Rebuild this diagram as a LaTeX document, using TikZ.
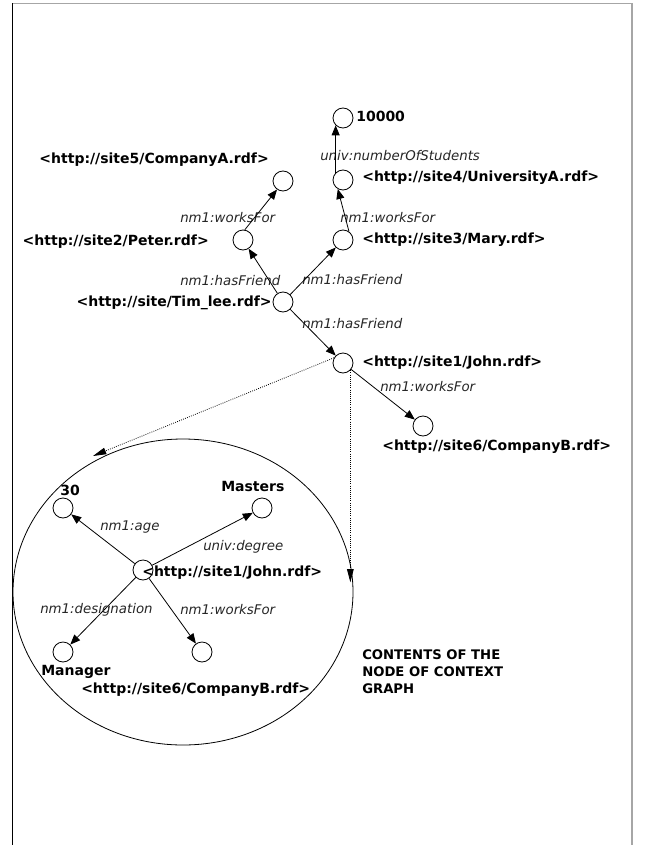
\documentclass[tikz,border=0pt]{standalone}
\usepackage{fontspec}
\setmainfont{DejaVu Sans}
\usetikzlibrary{arrows.meta}
\begin{document}
\begin{tikzpicture}[x=0.75pt,y=-0.75pt,
  vnode/.style={circle,draw,line width=0.6pt,minimum size=15pt,inner sep=0pt},
  uri/.style={font=\fontsize{10.5}{12}\selectfont\bfseries,inner sep=0pt},
  prop/.style={font=\fontsize{10}{12}\selectfont\itshape,inner sep=0pt,text=black!85},
  edgearrow/.style={line width=0.6pt,-{Triangle[length=7.5pt,width=6pt]}},
  dotarrow/.style={line width=0.6pt,densely dotted,-{Triangle[length=10pt,width=5pt]}}]
\useasboundingbox (0,0) rectangle (645,845);
% frame
\draw[gray!70,line width=1.2pt] (12.5,3.5) -- (632,3.5) -- (632,845);
\draw[black,line width=0.9pt] (12.5,3.5) -- (12.5,845);

% context graph nodes
\node[vnode] (ten)   at (343,118) {};
\node[vnode] (univ)  at (343,180) {};
\node[vnode] (compA) at (283,181) {};
\node[vnode] (peter) at (243,240) {};
\node[vnode] (mary)  at (343,240) {};
\node[vnode] (tim)   at (283,302) {};
\node[vnode] (john)  at (343,363) {};
\node[vnode] (compB) at (423,426) {};

\node[uri,anchor=west] (tenL)   at (356,116) {10000};
\node[uri,anchor=west] (univL)  at (362,178) {<http://site4/UniversityA.rdf>};
\node[uri,anchor=east] (compAL) at (269,160) {<http://site5/CompanyA.rdf>};
\node[uri,anchor=east] (peterL) at (209,242) {<http://site2/Peter.rdf>};
\node[uri,anchor=west] (maryL)  at (362,240) {<http://site3/Mary.rdf>};
\node[uri,anchor=east] (timL)   at (272,303) {<http://site/Tim\_lee.rdf>};
\node[uri,anchor=west] (johnL)  at (362,363) {<http://site1/John.rdf>};
\node[uri,anchor=west] (compBL) at (382,447) {<http://site6/CompanyB.rdf>};

\node[prop,anchor=west] (pNum)  at (320,156) {univ:numberOfStudents};
\node[prop,anchor=west] (pW1)   at (180,218) {nm1:worksFor};
\node[prop,anchor=west] (pW2)   at (340,218) {nm1:worksFor};
\node[prop,anchor=west] (pF1)   at (180,281) {nm1:hasFriend};
\node[prop,anchor=west] (pF2)   at (302,280) {nm1:hasFriend};
\node[prop,anchor=west] (pF3)   at (302,324) {nm1:hasFriend};
\node[prop,anchor=west] (pW3)   at (380,387) {nm1:worksFor};

\draw[edgearrow] (univ.north west) -- (ten.south west);
\draw[edgearrow] (peter.80) -- (compA.235);
\draw[edgearrow] (mary.55) -- (univ.240);
\draw[edgearrow] (tim) -- (peter);
\draw[edgearrow] (tim) -- (mary);
\draw[edgearrow] (tim) -- (john);
\draw[edgearrow] (john) -- (compB);

% big ellipse
\draw[line width=0.6pt] (183,592) ellipse [x radius=170, y radius=153];

% dotted connectors
\coordinate (dtip1) at (93,456);
\path (john.south east) ++(0,212) coordinate (dtip2);
\draw[dotarrow] (john.150) -- (dtip1);
\draw[dotarrow] (john.south east) -- (dtip2);

% inner graph
\node[vnode] (thirty)  at (63,508) {};
\node[vnode] (masters) at (262,508) {};
\node[vnode] (c)       at (143,570) {};
\node[vnode] (manager) at (63,652) {};
\node[vnode] (icompB)  at (202,652) {};

\draw[edgearrow] (c) -- (thirty);
\draw[edgearrow] (c) -- (masters);
\draw[edgearrow] (c) -- (manager);
\draw[edgearrow] (c) -- (icompB);

\node[uri,anchor=west] (thirtyL)  at (60,490) {30};
\node[uri,anchor=west] (mastersL) at (221,486) {Masters};
\node[uri,anchor=west] (cL)       at (142,573) {<http://site1/John.rdf>};
\node[uri,anchor=west] (managerL) at (41,672) {Manager};
\node[uri,anchor=west] (icompBL)  at (81,690) {<http://site6/CompanyB.rdf>};

\node[prop,anchor=west] (pAge)  at (100,527) {nm1:age};
\node[prop,anchor=west] (pDeg)  at (203,547) {univ:degree};
\node[prop,anchor=west] (pDes)  at (40,610)  {nm1:designation};
\node[prop,anchor=west] (pW4)   at (180,610) {nm1:worksFor};

\node[font=\fontsize{9.9}{12.75}\selectfont\bfseries,inner sep=0pt,anchor=north west,align=left] (contents) at (362,649)
  {CONTENTS OF THE\\NODE OF CONTEXT\\GRAPH};
\end{tikzpicture}
\end{document}
